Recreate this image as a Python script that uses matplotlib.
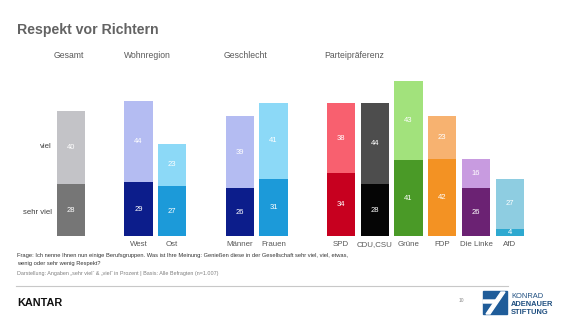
import numpy as np
import matplotlib.pyplot as plt
from matplotlib.patches import Polygon

plt.rcParams['font.family'] = ['Liberation Sans', 'DejaVu Sans']

W, H = 570, 321

# bar slots (gaps between the groups are empty slots)
positions = [0, 2, 3, 5, 6, 8, 9, 10, 11, 12, 13]
tick_labels = ["", "West", "Ost", "Männer", "Frauen", "SPD", "CDU,CSU", "Grüne", "FDP", "Die Linke", "AfD"]
sehr_viel = [28, 29, 27, 26, 31, 34, 28, 41, 42, 26, 4]
viel = [40, 44, 23, 39, 41, 38, 44, 43, 23, 16, 27]

dark_colors = ["#767676", "#0c1d8b", "#1c9ad9", "#0c1d8b", "#1c9ad9",
               "#c7001f", "#050505", "#4a9a27", "#f39223", "#6b2273", "#2ea9d0"]
light_colors = ["#c3c3c7", "#b4bcf2", "#8cd9f7", "#b4bcf2", "#8cd9f7",
                "#f8606f", "#4d4d4d", "#a2e27c", "#f7b270", "#c89be0", "#8ecde1"]

group_titles = ["Gesamt", "Wohnregion", "Geschlecht", "Parteipräferenz"]
group_title_x = [69, 147, 246, 354]


def fx(px):
    return px / W


def fy(py):
    return 1 - py / H


fig = plt.figure(figsize=(W / 100, H / 100), dpi=100)
fig.patch.set_facecolor("white")

# axes placed so that slot 0 sits at x=71px and the baseline at y=236px
x0, pitch = 71, 33.75
base, ppu, top = 236, 1.845, 60
ax = fig.add_axes([0, fy(base), 1, (base - top) / H])
ax.set_xlim(-x0 / pitch, (W - x0) / pitch)
ax.set_ylim(0, (base - top) / ppu)
ax.axis("off")

bw = 0.83
ax.bar(positions, sehr_viel, width=bw, color=dark_colors)
ax.bar(positions, viel, width=bw, bottom=sehr_viel, color=light_colors)

for x, a, b in zip(positions, sehr_viel, viel):
    ax.text(x, a / 2, str(a), ha="center", va="center", color="white", fontsize=5.5)
    ax.text(x, a + b / 2, str(b), ha="center", va="center", color="white", fontsize=5.5)

for x, lab in zip(positions, tick_labels):
    if lab:
        fig.text(fx(x0 + pitch * x), fy(245), lab, ha="center", va="center",
                 fontsize=5.7, color="#595959")

# row labels
fig.text(fx(52), fy(147), "viel", ha="right", va="center", fontsize=5.6, color="#404040")
fig.text(fx(52), fy(213), "sehr viel", ha="right", va="center", fontsize=5.6, color="#404040")

for t, gx in zip(group_titles, group_title_x):
    fig.text(fx(gx), fy(56), t, ha="center", va="center", fontsize=6.2, color="#595959")

fig.text(fx(17), fy(30), "Respekt vor Richtern", ha="left", va="center",
         fontsize=10.2, fontweight="bold", color="#636363")

# question and source
fig.text(fx(17), fy(256), "Frage: Ich nenne Ihnen nun einige Berufsgruppen. Was ist Ihre Meinung: "
         "Genießen diese in der Gesellschaft sehr viel, viel, etwas,",
         ha="left", va="center", fontsize=4.15, color="#333333")
fig.text(fx(17), fy(264), "wenig oder sehr wenig Respekt?",
         ha="left", va="center", fontsize=4.15, color="#333333")
fig.text(fx(17), fy(273), "Darstellung: Angaben \u201esehr viel\u201c & \u201eviel\u201c in Prozent | "
         "Basis: Alle Befragten (n=1.007)",
         ha="left", va="center", fontsize=3.85, color="#7f7f7f")

# footer
fig.add_artist(plt.Line2D([fx(16), fx(508)], [fy(286), fy(286)], color="#c8c8c8", lw=0.8))
fig.text(fx(17), fy(303), "KANTAR", ha="left", va="center", fontsize=7.8,
         fontweight="bold", color="#111111")
fig.text(fx(461), fy(301), "10", ha="center", va="center", fontsize=3.5, color="#888888")

# KAS logo mark
blue = "#1f5c99"
fig.add_artist(Polygon([(fx(483), fy(314)), (fx(507), fy(314)), (fx(507), fy(291)),
                        (fx(483), fy(291))], closed=True, color=blue, transform=fig.transFigure))
fig.add_artist(Polygon([(fx(486), fy(314)), (fx(490), fy(314)), (fx(505), fy(292)),
                        (fx(501), fy(292))], closed=True, color="white", transform=fig.transFigure))
fig.add_artist(Polygon([(fx(483), fy(300)), (fx(497), fy(300)), (fx(495), fy(303)),
                        (fx(483), fy(303))], closed=True, color="white", transform=fig.transFigure))
fig.text(fx(511), fy(297), "KONRAD", ha="left", va="center", fontsize=5.4, color="#1f4f80")
fig.text(fx(511), fy(305), "ADENAUER", ha="left", va="center", fontsize=5.4,
         fontweight="bold", color="#1f4f80")
fig.text(fx(511), fy(313), "STIFTUNG", ha="left", va="center", fontsize=5.4,
         fontweight="bold", color="#1f4f80")

fig.savefig("out.png", dpi=100, facecolor="white")
